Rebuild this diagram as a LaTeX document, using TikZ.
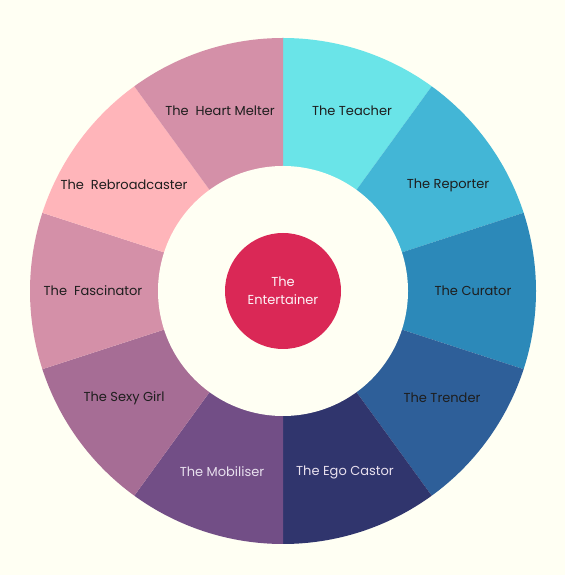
\documentclass[tikz,border=0pt]{standalone}
\usepackage{fontspec}
\setmainfont{Poppins}
\definecolor{bg}{HTML}{FFFFF3}
\definecolor{cTeacher}{HTML}{6AE4E8}
\definecolor{cReporter}{HTML}{43B6D6}
\definecolor{cCurator}{HTML}{2C89B9}
\definecolor{cTrender}{HTML}{2E5F99}
\definecolor{cEgo}{HTML}{30356D}
\definecolor{cMob}{HTML}{724E86}
\definecolor{cSexy}{HTML}{A66D95}
\definecolor{cFasc}{HTML}{D490A8}
\definecolor{cRebro}{HTML}{FFB5BA}
\definecolor{cHeart}{HTML}{D490A8}
\definecolor{cCenter}{HTML}{DA2856}
\definecolor{darktext}{HTML}{1E1E1E}
\definecolor{lighttext}{HTML}{E8E0EE}
\tikzset{
  lbl/.style={font=\fontsize{13}{15}\selectfont, text=darktext, inner sep=0pt},
  lbllight/.style={lbl, text=lighttext},
}
\newcommand{\segm}[3]{\fill[#3] (ctr) -- ++(#1:253) arc[start angle=#1, end angle=#2, radius=253] -- cycle;}
\begin{document}
\begin{tikzpicture}[x=1pt,y=1pt]
\fill[bg] (0,0) rectangle (565,575);
\useasboundingbox (0,0) rectangle (565,575);
\coordinate (ctr) at (283,284);
\segm{54}{90}{cTeacher}
\segm{18}{54}{cReporter}
\segm{-18}{18}{cCurator}
\segm{-54}{-18}{cTrender}
\segm{-90}{-54}{cEgo}
\segm{-126}{-90}{cMob}
\segm{-162}{-126}{cSexy}
\segm{162}{198}{cFasc}
\segm{126}{162}{cRebro}
\segm{90}{126}{cHeart}
\fill[bg] (ctr) circle[radius=125];
\node[circle, fill=cCenter, minimum size=116pt, inner sep=0pt, align=center, text=white!95!cCenter, font=\fontsize{13}{18}\selectfont] (center) at (ctr) {The\\Entertainer};
\node[lbl] (teacher) at (352,464) {The Teacher};
\node[lbl] (reporter) at (448,390) {The Reporter};
\node[lbl] (curator) at (473,284) {The Curator};
\node[lbl] (trender) at (442,177) {The Trender};
\node[lbllight] (ego) at (345,103) {The Ego Castor};
\node[lbllight] (mob) at (222,103) {The Mobiliser};
\node[lbl] (sexy) at (124,177) {The Sexy Girl};
\node[lbl] (fasc) at (93,284) {The~~Fascinator};
\node[lbl] (rebro) at (124,390) {The~~Rebroadcaster};
\node[lbl] (heart) at (220,464) {The~~Heart Melter};
\end{tikzpicture}
\end{document}
